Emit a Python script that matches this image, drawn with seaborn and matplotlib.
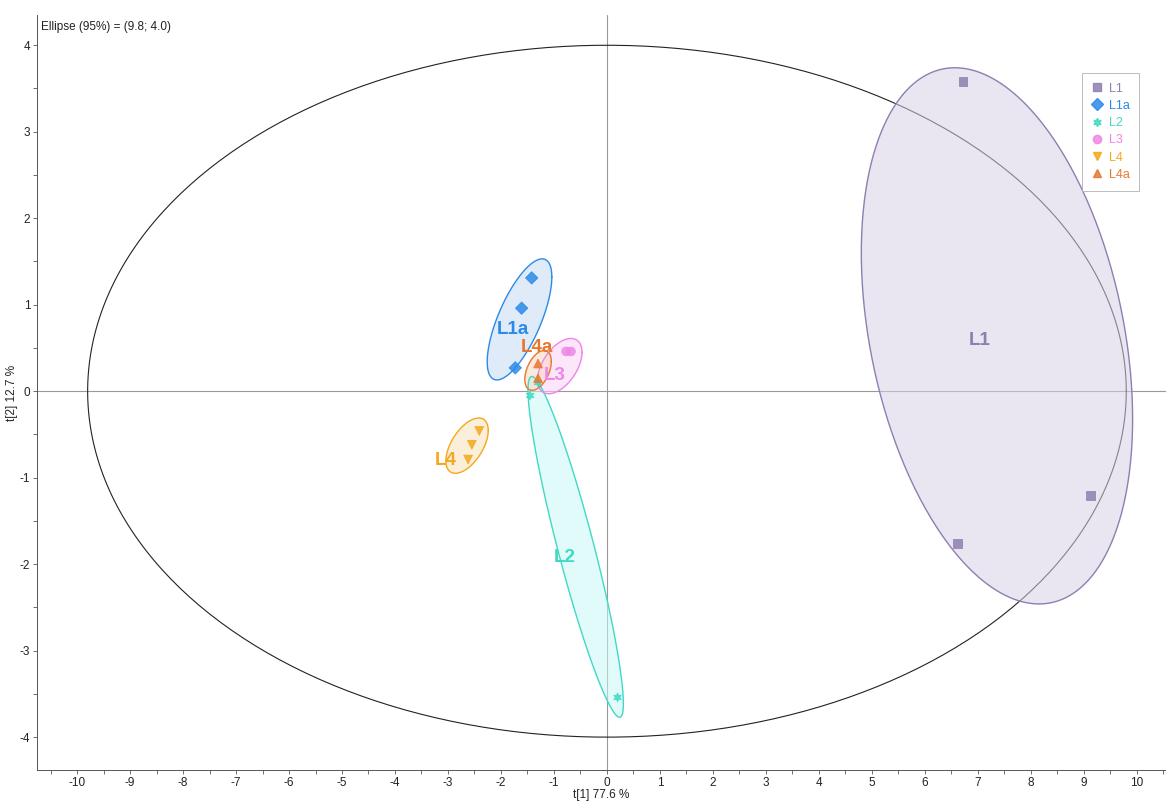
import numpy as np
import pandas as pd
import seaborn as sns
import matplotlib.pyplot as plt
from matplotlib.lines import Line2D
from matplotlib.ticker import MultipleLocator

# score points (t[1], t[2]) per group
groups = ['L1', 'L1a', 'L2', 'L3', 'L4', 'L4a']
t1_L1 = [6.72, 9.12, 6.62]
t2_L1 = [3.58, -1.21, -1.76]
t1_L1a = [-1.42, -1.61, -1.73]
t2_L1a = [1.31, 0.96, 0.27]
t1_L2 = [-1.45, -1.30, 0.20]
t2_L2 = [-0.05, 0.10, -3.54]
t1_L3 = [-0.77, -0.68]
t2_L3 = [0.46, 0.46]
t1_L4 = [-2.41, -2.55, -2.62]
t2_L4 = [-0.46, -0.62, -0.79]
t1_L4a = [-1.30, -1.30]
t2_L4a = [0.32, 0.15]

# group ellipses: centre, half extents, correlation
ell_cx = [7.36, -1.65, -0.59, -0.89, -2.64, -1.30]
ell_cy = [0.64, 0.83, -1.80, 0.29, -0.63, 0.24]
ell_hx = [2.56, 0.61, 0.90, 0.42, 0.40, 0.25]
ell_hy = [3.10, 0.70, 1.97, 0.32, 0.32, 0.23]
ell_rho = [-0.31, 0.70, -0.92, 0.50, 0.55, 0.45]

# group labels
lab_x = [7.04, -1.77, -0.79, -0.98, -3.04, -1.33]
lab_y = [0.59, 0.71, -1.92, 0.18, -0.80, 0.50]

hotelling = (9.8, 4.0)

colors = ['#8e7fb0', '#2a8ae8', '#3fd9c4', '#ee86e6', '#f5a81c', '#e8772e']
fills = ['#d8d0e6', '#c6dcf5', '#c9f8f8', '#f9d3f6', '#f9e2bd', '#f8d7c0']
markers = ['s', 'D', (6, 1, 0), 'o', 'v', '^']

pts = {'L1': (t1_L1, t2_L1), 'L1a': (t1_L1a, t2_L1a), 'L2': (t1_L2, t2_L2),
       'L3': (t1_L3, t2_L3), 'L4': (t1_L4, t2_L4), 'L4a': (t1_L4a, t2_L4a)}
df = pd.concat([pd.DataFrame({'t1': v[0], 't2': v[1], 'group': k}) for k, v in pts.items()])

sns.set_theme(style='white')
plt.rcParams['font.family'] = ['Liberation Sans', 'DejaVu Sans']
plt.rcParams['axes.unicode_minus'] = False

fig = plt.figure(figsize=(11.66, 8.01), dpi=100)
ax = fig.add_axes([0.032, 0.0387, 0.968, 0.9426])

t = np.linspace(0, 2 * np.pi, 400)
ax.plot(hotelling[0] * np.cos(t), hotelling[1] * np.sin(t), color='#222222', lw=0.8, zorder=2)
ax.axhline(0, color='#999999', lw=0.8, zorder=1)
ax.axvline(0, color='#999999', lw=0.8, zorder=1)

for i, g in enumerate(groups):
    ex = ell_cx[i] + ell_hx[i] * np.cos(t)
    ey = ell_cy[i] + ell_hy[i] * (ell_rho[i] * np.cos(t) + np.sqrt(1 - ell_rho[i] ** 2) * np.sin(t))
    ax.fill(ex, ey, color=fills[i], alpha=0.55, lw=0, zorder=3)
    ax.plot(ex, ey, color=colors[i], lw=1.0, zorder=4)

sns.scatterplot(data=df, x='t1', y='t2', hue='group', style='group',
                palette=dict(zip(groups, colors)), markers=dict(zip(groups, markers)),
                hue_order=groups, style_order=groups, s=40, linewidth=0.6,
                edgecolor='face', alpha=0.85, legend=False, ax=ax, zorder=5)

for i, g in enumerate(groups):
    ax.text(lab_x[i], lab_y[i], g, color=colors[i], fontsize=13.5, fontweight='bold',
            ha='center', va='center', zorder=6)

ax.set_xlim(-10.75, 10.55)
ax.set_ylim(-4.38, 4.35)
ax.xaxis.set_major_locator(MultipleLocator(1))
ax.xaxis.set_minor_locator(MultipleLocator(0.5))
ax.yaxis.set_major_locator(MultipleLocator(1))
ax.yaxis.set_minor_locator(MultipleLocator(0.5))
ax.tick_params(which='both', direction='out', length=3, width=0.6, color='#555555',
               labelsize=8.5, labelcolor='#222222', bottom=True, left=True, pad=2)
for side in ['top', 'right']:
    ax.spines[side].set_visible(False)
for side in ['left', 'bottom']:
    ax.spines[side].set_color('#555555')
    ax.spines[side].set_linewidth(0.7)
ax.set_xlabel('t[1] 77.6 %', fontsize=8.5, labelpad=0, color='#222222')
ax.set_ylabel('t[2] 12.7 %', fontsize=8.5, labelpad=1, color='#222222')
ax.text(0.003, 0.984, 'Ellipse (95%) = (9.8; 4.0)', transform=ax.transAxes,
        fontsize=8.5, va='center', ha='left', color='#222222')

handles = [Line2D([], [], marker=m, color=c, linestyle='none', markersize=6, alpha=0.85)
           for m, c in zip(markers, colors)]
leg = ax.legend(handles, groups, loc='upper right', bbox_to_anchor=(0.982, 0.932),
                fontsize=9, frameon=True, fancybox=False, handlelength=0.8,
                handletextpad=0.5, labelspacing=0.42, borderpad=0.8, labelcolor=colors)
leg.get_frame().set_edgecolor('#aaaaaa')
leg.get_frame().set_linewidth(0.7)

fig.savefig('out.png', dpi=100)
